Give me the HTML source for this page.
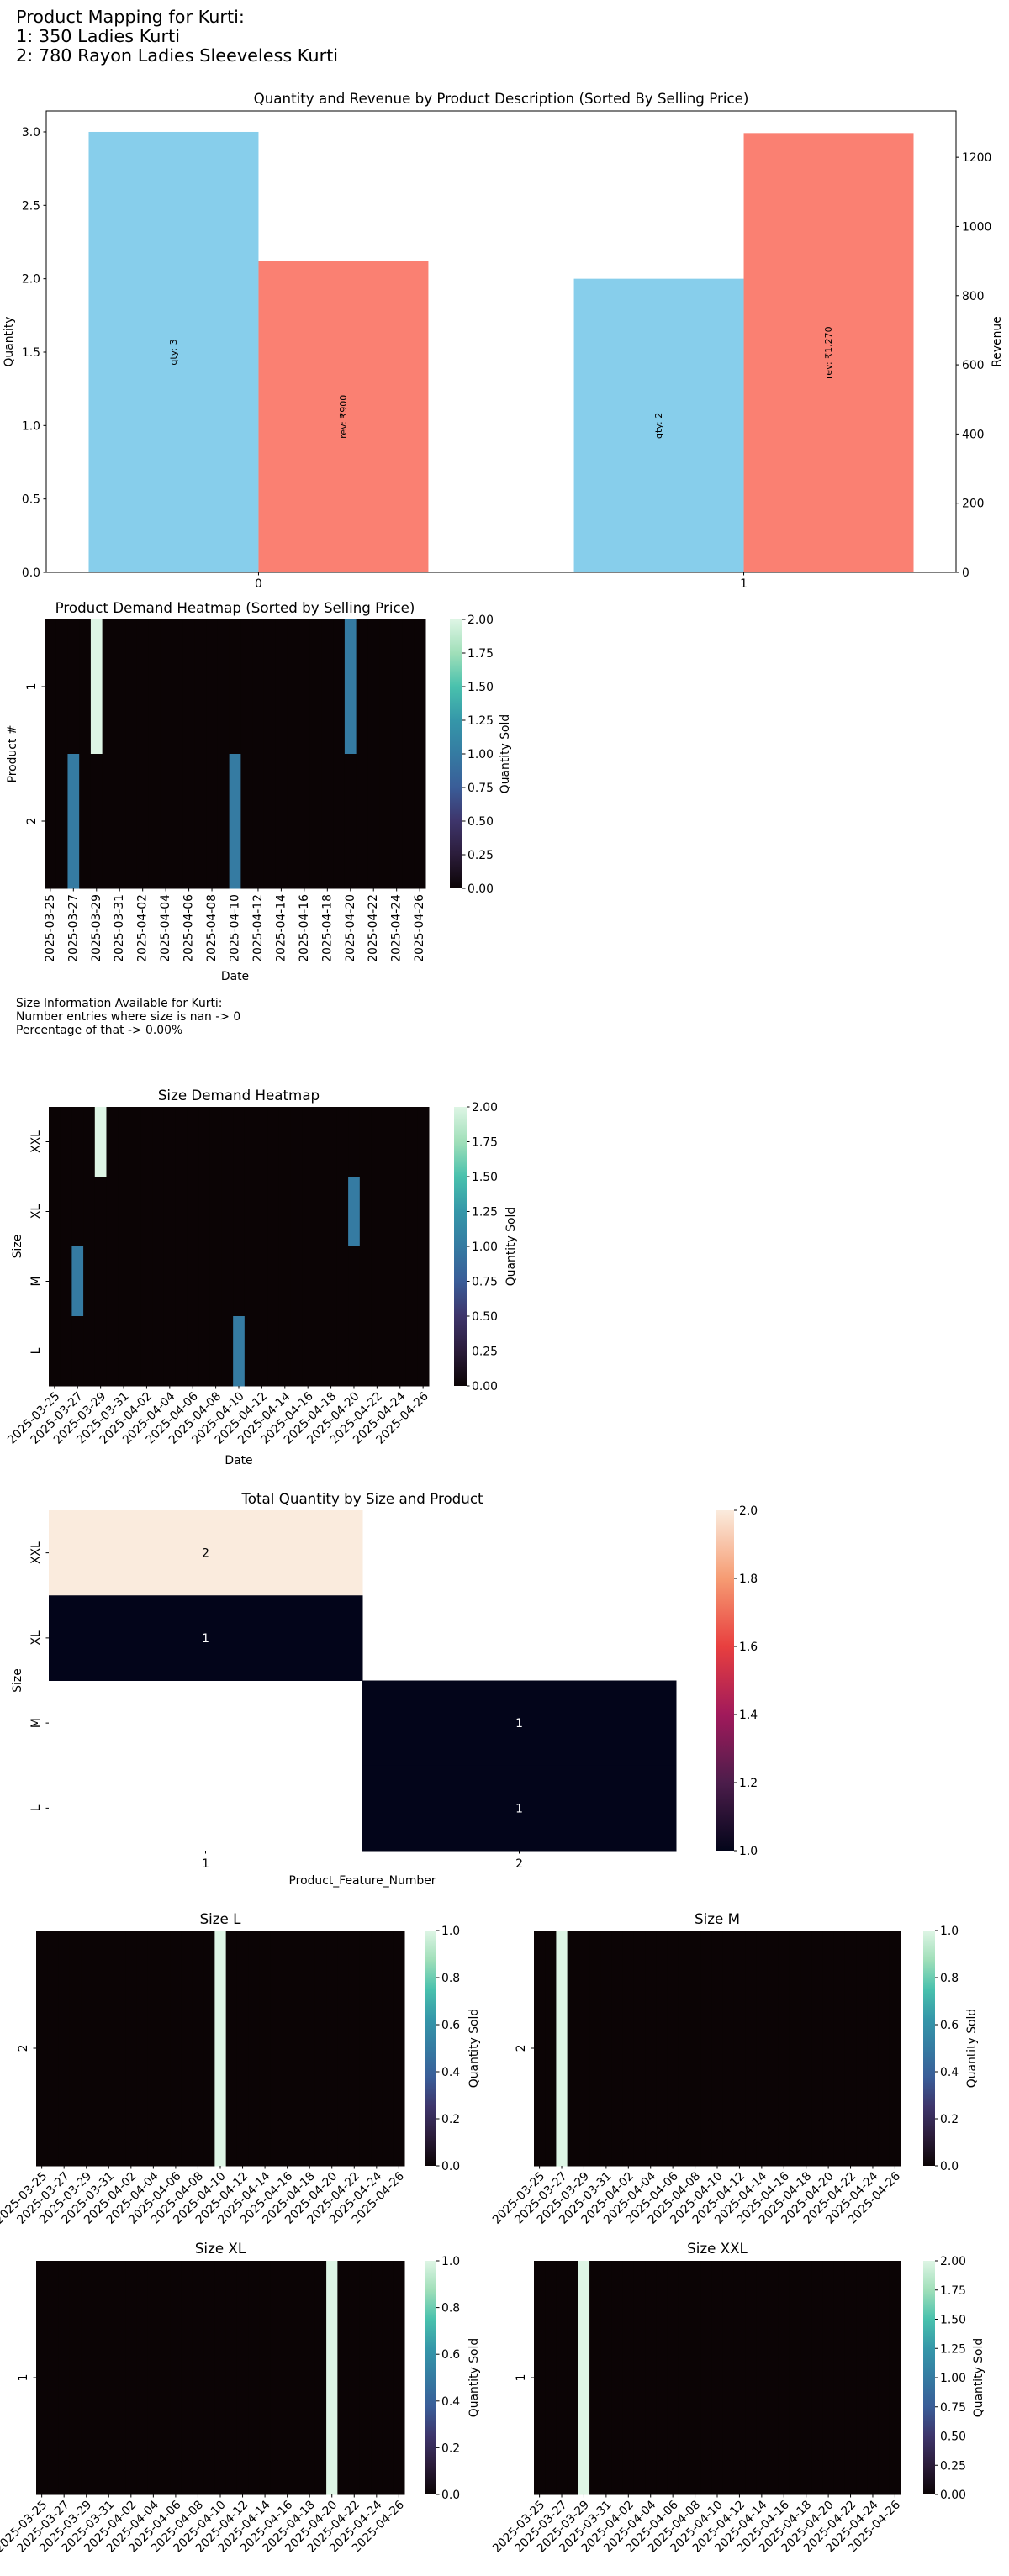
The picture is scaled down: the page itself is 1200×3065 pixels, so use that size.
<!DOCTYPE html>
<html><head><meta charset="utf-8"><style>
body{margin:0;background:#fff;}
svg text{font-family:"DejaVu Sans","Liberation Sans",sans-serif;fill:#000;}
</style></head><body>
<svg id="root" width="1200" height="3060" viewBox="0 0 1200 3060" xmlns="http://www.w3.org/2000/svg">
<defs>
<linearGradient id="makoG" x1="0" y1="1" x2="0" y2="0">
<stop offset="0" stop-color="#0b0405"/><stop offset="0.125" stop-color="#2b1c3a"/><stop offset="0.25" stop-color="#3e356b"/><stop offset="0.375" stop-color="#3a5d98"/><stop offset="0.5" stop-color="#357ba2"/><stop offset="0.625" stop-color="#3597a9"/><stop offset="0.75" stop-color="#49c1ad"/><stop offset="0.875" stop-color="#a0dfb9"/><stop offset="1" stop-color="#def5e5"/>
</linearGradient>
<linearGradient id="rocketG" x1="0" y1="1" x2="0" y2="0">
<stop offset="0" stop-color="#03051a"/><stop offset="0.2" stop-color="#4c1d4b"/><stop offset="0.4" stop-color="#a11a5b"/><stop offset="0.6" stop-color="#e83f3f"/><stop offset="0.8" stop-color="#f69c73"/><stop offset="1" stop-color="#faebdd"/>
</linearGradient>
</defs>
<g>
<text x="19" y="27" font-size="20.8">Product Mapping for Kurti:</text>
<text x="19" y="50" font-size="20.8">1: 350 Ladies Kurti</text>
<text x="19" y="73" font-size="20.8">2: 780 Rayon Ladies Sleeveless Kurti</text>
</g>
<g>
<text x="19" y="1198" font-size="13.9">Size Information Available for Kurti:</text>
<text x="19" y="1214" font-size="13.9">Number entries where size is nan -&gt; 0</text>
<text x="19" y="1230" font-size="13.9">Percentage of that -&gt; 0.00%</text>
</g>
</svg>
<script>
// ---- bar chart data ----
const barCategories = ['0', '1'];
const qtyValues = [3, 2];
const revValues = [900, 1270];
const qtyLabels = ['qty: 3', 'qty: 2'];
const revLabels = ['rev: ₹900', 'rev: ₹1,270'];
const qtyTicks = [0, 0.5, 1.0, 1.5, 2.0, 2.5, 3.0];
const revTicks = [0, 200, 400, 600, 800, 1000, 1200];
// ---- heatmap data ----
const dates = ['2025-03-25','2025-03-26','2025-03-27','2025-03-28','2025-03-29','2025-03-30','2025-03-31','2025-04-01','2025-04-02','2025-04-03','2025-04-04','2025-04-05','2025-04-06','2025-04-07','2025-04-08','2025-04-09','2025-04-10','2025-04-11','2025-04-12','2025-04-13','2025-04-14','2025-04-15','2025-04-16','2025-04-17','2025-04-18','2025-04-19','2025-04-20','2025-04-21','2025-04-22','2025-04-23','2025-04-24','2025-04-25','2025-04-26'];
const product1Qty = [0,0,0,0,2,0,0,0,0,0,0,0,0,0,0,0,0,0,0,0,0,0,0,0,0,0,1,0,0,0,0,0,0];
const product2Qty = [0,0,1,0,0,0,0,0,0,0,0,0,0,0,0,0,1,0,0,0,0,0,0,0,0,0,0,0,0,0,0,0,0];
const sizeXXLQty = [0,0,0,0,2,0,0,0,0,0,0,0,0,0,0,0,0,0,0,0,0,0,0,0,0,0,0,0,0,0,0,0,0];
const sizeXLQty = [0,0,0,0,0,0,0,0,0,0,0,0,0,0,0,0,0,0,0,0,0,0,0,0,0,0,1,0,0,0,0,0,0];
const sizeMQty = [0,0,1,0,0,0,0,0,0,0,0,0,0,0,0,0,0,0,0,0,0,0,0,0,0,0,0,0,0,0,0,0,0];
const sizeLQty = [0,0,0,0,0,0,0,0,0,0,0,0,0,0,0,0,1,0,0,0,0,0,0,0,0,0,0,0,0,0,0,0,0];
const totalSizes = ['XXL', 'XL', 'M', 'L'];
const totalProducts = ['1', '2'];
const totalQty = [[2, null], [1, null], [null, 1], [null, 1]];

const NS = 'http://www.w3.org/2000/svg';
const root = document.getElementById('root');
function mk(tag, attrs, parent, name, text) {
  const el = document.createElementNS(NS, tag);
  for (const k in attrs) el.setAttribute(k, attrs[k]);
  
  
  if (text !== undefined) el.textContent = text;
  (parent || root).appendChild(el);
  return el;
}
function hex(c){return [parseInt(c.slice(1,3),16),parseInt(c.slice(3,5),16),parseInt(c.slice(5,7),16)];}
const makoStops = [[0,'#0b0405'],[0.125,'#2b1c3a'],[0.25,'#3e356b'],[0.375,'#3a5d98'],[0.5,'#357ba2'],[0.625,'#3597a9'],[0.75,'#49c1ad'],[0.875,'#a0dfb9'],[1,'#def5e5']];
const rocketStops = [[0,'#03051a'],[0.2,'#4c1d4b'],[0.4,'#a11a5b'],[0.6,'#e83f3f'],[0.8,'#f69c73'],[1,'#faebdd']];
function cmap(stops, t) {
  t = Math.max(0, Math.min(1, t));
  for (let i = 1; i < stops.length; i++) {
    if (t <= stops[i][0]) {
      const a = stops[i-1], b = stops[i], f = (t - a[0]) / (b[0] - a[0]);
      const ca = hex(a[1]), cb = hex(b[1]);
      return 'rgb(' + ca.map((v, j) => Math.round(v + (cb[j] - v) * f)).join(',') + ')';
    }
  }
  return stops[stops.length-1][1];
}

// ---- bar chart ----
(function(){
  const g = mk('g', {}, root, 'quantity-revenue-chart');
  const L = 55, R = 1137, T = 132, B = 681;
  const xMin = -0.4375, xMax = 1.4375;
  const qMax = 3.143, rMax = 1334;
  const xs = v => L + (v - xMin) / (xMax - xMin) * (R - L);
  const yq = v => B - v / qMax * (B - T);
  const yr = v => B - v / rMax * (B - T);
  const w = 0.35;
  mk('text', {x: (L+R)/2, y: 123, 'font-size': 16.7, 'text-anchor': 'middle'}, g, 'chart-title', 'Quantity and Revenue by Product Description (Sorted By Selling Price)');
  barCategories.forEach((c, i) => {
    const x0 = xs(i - w), x1 = xs(i), x2 = xs(i + w);
    mk('rect', {x: x0, y: yq(qtyValues[i]), width: x1 - x0, height: B - yq(qtyValues[i]), fill: '#87ceeb'}, g, 'qty-bar-' + c);
    mk('rect', {x: x1, y: yr(revValues[i]), width: x2 - x1, height: B - yr(revValues[i]), fill: '#fa8072'}, g, 'rev-bar-' + c);
    const cq = (x0 + x1) / 2, yq2 = yq(qtyValues[i] / 2);
    mk('text', {x: cq, y: yq2, 'font-size': 11, 'text-anchor': 'middle', 'dominant-baseline': 'central', transform: 'rotate(-90 ' + cq + ' ' + yq2 + ')'}, g, 'qty-bar-label', qtyLabels[i]);
    const cr = (x1 + x2) / 2, yr2 = yr(revValues[i] / 2);
    mk('text', {x: cr, y: yr2, 'font-size': 11, 'text-anchor': 'middle', 'dominant-baseline': 'central', transform: 'rotate(-90 ' + cr + ' ' + yr2 + ')'}, g, 'rev-bar-label', revLabels[i]);
    mk('line', {x1: xs(i), x2: xs(i), y1: B, y2: B + 3.5, stroke: '#000'}, g, 'x-tick');
    mk('text', {x: xs(i), y: B + 18, 'font-size': 13.9, 'text-anchor': 'middle'}, g, 'x-tick-label', c);
  });
  qtyTicks.forEach(v => {
    mk('line', {x1: L - 3.5, x2: L, y1: yq(v), y2: yq(v), stroke: '#000'}, g, 'left-y-tick');
    mk('text', {x: L - 7, y: yq(v) + 5, 'font-size': 13.9, 'text-anchor': 'end'}, g, 'left-y-tick-label', v.toFixed(1));
  });
  revTicks.forEach(v => {
    mk('line', {x1: R, x2: R + 3.5, y1: yr(v), y2: yr(v), stroke: '#000'}, g, 'right-y-tick');
    mk('text', {x: R + 7, y: yr(v) + 5, 'font-size': 13.9}, g, 'right-y-tick-label', String(v));
  });
  mk('rect', {x: L, y: T, width: R - L, height: B - T, fill: 'none', stroke: '#000', 'stroke-width': 1}, g, 'plot-frame');
  mk('text', {x: 15, y: (T+B)/2, 'font-size': 13.9, 'text-anchor': 'middle', transform: 'rotate(-90 15 ' + (T+B)/2 + ')'}, g, 'left-y-axis-title', 'Quantity');
  mk('text', {x: 1190, y: (T+B)/2, 'font-size': 13.9, 'text-anchor': 'middle', transform: 'rotate(-90 1190 ' + (T+B)/2 + ')'}, g, 'right-y-axis-title', 'Revenue');
})();

// ---- generic heatmap ----
function heatmap(o) {
  const g = mk('g', {}, root, o.name);
  const nr = o.rows.length, nc = o.cols.length;
  const cw = (o.x1 - o.x0) / nc, rh = (o.y1 - o.y0) / nr;
  const stops = o.rocket ? rocketStops : makoStops;
  o.rows.forEach((r, ri) => {
    o.data[ri].forEach((v, ci) => {
      if (v === null) return;
      mk('rect', {x: o.x0 + ci * cw, y: o.y0 + ri * rh, width: cw + 0.5, height: rh + 0.5, fill: cmap(stops, (v - o.vmin) / (o.vmax - o.vmin))}, g, 'heatmap-cell');
      if (o.annot) {
        const t = (v - o.vmin) / (o.vmax - o.vmin);
        mk('text', {x: o.x0 + (ci + 0.5) * cw, y: o.y0 + (ri + 0.5) * rh + 5, 'font-size': 13.9, 'text-anchor': 'middle', style: 'fill:' + (t > 0.5 ? '#000' : '#fff')}, g, 'cell-annotation', String(v));
      }
    });
    const yc = o.y0 + (ri + 0.5) * rh;
    mk('line', {x1: o.x0 - 3.5, x2: o.x0, y1: yc, y2: yc, stroke: '#000'}, g, 'y-tick');
    mk('text', {x: o.x0 - 7, y: yc, 'font-size': 13.9, 'text-anchor': 'middle', transform: 'rotate(-90 ' + (o.x0 - 11) + ' ' + yc + ')', dx: 0}, g, 'y-tick-label', r).setAttribute('x', o.x0 - 11);
  });
  const step = o.tickStep || 1;
  for (let ci = 0; ci < nc; ci += step) {
    const xc = o.x0 + (ci + 0.5) * cw;
    mk('line', {x1: xc, x2: xc, y1: o.y1, y2: o.y1 + 3.5, stroke: '#000'}, g, 'x-tick');
    if (o.rot === 90) {
      const yy = o.y1 + 7;
      mk('text', {x: xc, y: yy, 'font-size': 13.9, 'text-anchor': 'end', 'dominant-baseline': 'central', transform: 'rotate(-90 ' + xc + ' ' + yy + ')'}, g, 'x-tick-label', o.cols[ci]);
    } else if (o.rot === 45) {
      const yy = o.y1 + 10;
      mk('text', {x: xc + 4, y: yy, 'font-size': 13.9, 'text-anchor': 'end', 'dominant-baseline': 'central', transform: 'rotate(-45 ' + (xc + 4) + ' ' + yy + ')'}, g, 'x-tick-label', o.cols[ci]);
    } else {
      mk('text', {x: xc, y: o.y1 + 20, 'font-size': 13.9, 'text-anchor': 'middle'}, g, 'x-tick-label', o.cols[ci]);
    }
  }
  if (o.title) mk('text', {x: (o.x0 + o.x1) / 2, y: o.titleY, 'font-size': 16.7, 'text-anchor': 'middle'}, g, 'heatmap-title', o.title);
  if (o.xlabel) mk('text', {x: (o.x0 + o.x1) / 2, y: o.xlabelY, 'font-size': 13.9, 'text-anchor': 'middle'}, g, 'x-axis-title', o.xlabel);
  if (o.ylabel) { const ym = (o.y0 + o.y1) / 2; mk('text', {x: o.ylabelX, y: ym, 'font-size': 13.9, 'text-anchor': 'middle', 'dominant-baseline': 'central', transform: 'rotate(-90 ' + o.ylabelX + ' ' + ym + ')'}, g, 'y-axis-title', o.ylabel); }
  // colorbar
  const cb = mk('g', {}, g, 'colorbar');
  mk('rect', {x: o.cb0, y: o.y0, width: o.cb1 - o.cb0, height: o.y1 - o.y0, fill: o.rocket ? 'url(#rocketG)' : 'url(#makoG)'}, cb, 'colorbar-gradient');
  o.cbTicks.forEach(v => {
    const yy = o.y1 - (v - o.vmin) / (o.vmax - o.vmin) * (o.y1 - o.y0);
    mk('line', {x1: o.cb1, x2: o.cb1 + 3.5, y1: yy, y2: yy, stroke: '#000'}, cb, 'colorbar-tick');
    mk('text', {x: o.cb1 + 6, y: yy + 5, 'font-size': 13.9}, cb, 'colorbar-tick-label', v.toFixed(o.cbDec));
  });
  if (o.cbLabelX) { const ym = (o.y0 + o.y1) / 2; mk('text', {x: o.cbLabelX, y: ym, 'font-size': 13.9, 'text-anchor': 'middle', 'dominant-baseline': 'central', transform: 'rotate(-90 ' + o.cbLabelX + ' ' + ym + ')'}, cb, 'colorbar-title', 'Quantity Sold'); }
}

const t2 = [0, 0.25, 0.5, 0.75, 1, 1.25, 1.5, 1.75, 2];
const t1 = [0, 0.2, 0.4, 0.6, 0.8, 1];
heatmap({name: 'product-demand-heatmap', x0: 53, x1: 506, y0: 737, y1: 1057, rows: ['1', '2'], cols: dates, data: [product1Qty, product2Qty], vmin: 0, vmax: 2, rot: 90, tickStep: 2, title: 'Product Demand Heatmap (Sorted by Selling Price)', titleY: 729, xlabel: 'Date', xlabelY: 1166, ylabel: 'Product #', ylabelX: 15, cb0: 535, cb1: 550, cbTicks: t2, cbDec: 2, cbLabelX: 601});
heatmap({name: 'size-demand-heatmap', x0: 58, x1: 510, y0: 1317, y1: 1649, rows: ['XXL', 'XL', 'M', 'L'], cols: dates, data: [sizeXXLQty, sizeXLQty, sizeMQty, sizeLQty], vmin: 0, vmax: 2, rot: 45, tickStep: 2, title: 'Size Demand Heatmap', titleY: 1309, xlabel: 'Date', xlabelY: 1742, ylabel: 'Size', ylabelX: 21, cb0: 540, cb1: 555, cbTicks: t2, cbDec: 2, cbLabelX: 608});
heatmap({name: 'total-quantity-heatmap', x0: 58, x1: 804, y0: 1797, y1: 2202, rows: totalSizes, cols: totalProducts, data: totalQty, vmin: 1, vmax: 2, rocket: true, annot: true, rot: 0, title: 'Total Quantity by Size and Product', titleY: 1789, xlabel: 'Product_Feature_Number', xlabelY: 2242, ylabel: 'Size', ylabelX: 21, cb0: 851, cb1: 873, cbTicks: [1, 1.2, 1.4, 1.6, 1.8, 2], cbDec: 1});
heatmap({name: 'size-l-heatmap', x0: 43, x1: 481, y0: 2297, y1: 2577, rows: ['2'], cols: dates, data: [sizeLQty], vmin: 0, vmax: 1, rot: 45, tickStep: 2, title: 'Size L', titleY: 2289, cb0: 505, cb1: 519, cbTicks: t1, cbDec: 1, cbLabelX: 564});
heatmap({name: 'size-m-heatmap', x0: 635, x1: 1071, y0: 2297, y1: 2577, rows: ['2'], cols: dates, data: [sizeMQty], vmin: 0, vmax: 1, rot: 45, tickStep: 2, title: 'Size M', titleY: 2289, cb0: 1098, cb1: 1112, cbTicks: t1, cbDec: 1, cbLabelX: 1156});
heatmap({name: 'size-xl-heatmap', x0: 43, x1: 481, y0: 2690, y1: 2968, rows: ['1'], cols: dates, data: [sizeXLQty], vmin: 0, vmax: 1, rot: 45, tickStep: 2, title: 'Size XL', titleY: 2681, cb0: 505, cb1: 519, cbTicks: t1, cbDec: 1, cbLabelX: 564});
heatmap({name: 'size-xxl-heatmap', x0: 635, x1: 1071, y0: 2690, y1: 2968, rows: ['1'], cols: dates, data: [sizeXXLQty], vmin: 0, vmax: 2, rot: 45, tickStep: 2, title: 'Size XXL', titleY: 2681, cb0: 1098, cb1: 1112, cbTicks: t2, cbDec: 2, cbLabelX: 1164});
</script>
</body></html>
